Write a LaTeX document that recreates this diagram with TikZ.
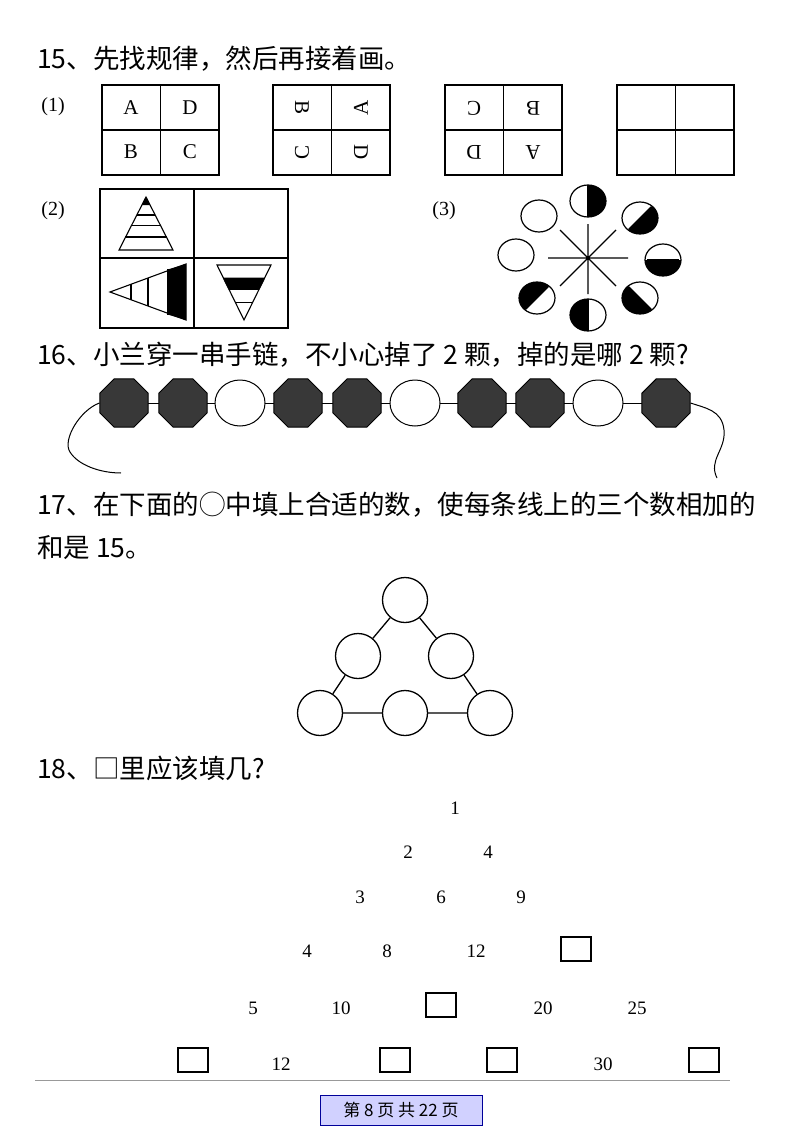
\documentclass[tikz,border=0pt]{standalone}
\usepackage{fontspec}
\setmainfont{Liberation Serif}
\newfontfamily\cjk{Noto Sans CJK SC}
\usetikzlibrary{shapes.geometric}
\begin{document}
\begin{tikzpicture}[x=1pt,y=-1pt,
  title/.style={anchor=base west,inner sep=0,font=\cjk\fontsize{26.5}{30}\selectfont},
  lbl/.style={font=\fontsize{20}{24}\selectfont,inner sep=0},
  let/.style={font=\fontsize{21}{24}\selectfont,inner sep=0},
  num/.style={font=\fontsize{19}{22}\selectfont,inner sep=0},
  gridline/.style={line width=1.6pt},
  qbox/.style={draw,line width=1.2pt,minimum width=30pt,minimum height=24pt,inner sep=0},
  dark/.style={draw,line width=1pt,fill=black!78,regular polygon,regular polygon sides=8,minimum size=52pt,inner sep=0},
  pearl/.style={draw,line width=1pt,fill=white,ellipse,minimum width=50pt,minimum height=46pt,inner sep=0},
  ring/.style={draw,line width=1.3pt,circle,minimum size=45pt,inner sep=0,fill=white}]
\useasboundingbox (0,0) rectangle (800,1132);
\fill[white] (0,0) rectangle (800,1132);

% ---- 15
\node[title] (t15) at (37,68) {15、先找规律，然后再接着画。};
\node[lbl] (l1) at (53,107) {(1)};
\foreach \gx/\ra/\a/\rb/\b/\rc/\c/\rd/\d [count=\i] in {102/0/A/0/D/0/B/0/C,273/-90/B/90/A/90/C/-90/D,445/180/C/180/B/180/D/180/A,617/0/{}/0/{}/0/{}/0/{}}{
  \draw[gridline] (\gx,85) rectangle (\gx+117,175);
  \draw[gridline] (\gx+58.5,85) -- (\gx+58.5,175);
  \draw[gridline] (\gx,130) -- (\gx+117,130);
  \node[let,rotate=\ra] (g\i a) at (\gx+29,108) {\a};
  \node[let,rotate=\rb] (g\i b) at (\gx+88,108) {\b};
  \node[let,rotate=\rc] (g\i c) at (\gx+29,152) {\c};
  \node[let,rotate=\rd] (g\i d) at (\gx+88,152) {\d};
}

% ---- (2)
\node[lbl] (l2) at (53,211) {(2)};
\draw[gridline] (100,189) rectangle (288,328);
\draw[gridline] (194,189) -- (194,328);
\draw[gridline] (100,258) -- (288,258);
% upright triangle
\fill (146,197) -- (141.9,205) -- (150.1,205) -- cycle;
\draw[line width=1.1pt] (146,197) -- (119,250) -- (173,250) -- cycle;
\draw[line width=1.1pt] (136.8,215) -- (155.2,215) (131.4,225.5) -- (160.6,225.5) (125.4,237) -- (166.6,237);
% left-pointing triangle
\fill (168,269.4) -- (186,264) -- (186,320) -- (168,314.6) -- cycle;
\draw[line width=1.1pt] (110,292) -- (186,264) -- (186,320) -- cycle;
\draw[line width=1.1pt] (131,284.3) -- (131,299.7) (148,277.9) -- (148,306.1) (168,269.4) -- (168,314.6);
% inverted triangle
\fill (222.8,277.6) -- (265.2,277.6) -- (259.2,289.8) -- (228.8,289.8) -- cycle;
\draw[line width=1.1pt] (217,265) -- (271,265) -- (244,320) -- cycle;
\draw[line width=1.1pt] (235.3,302.4) -- (252.7,302.4);

% ---- (3)
\node[lbl] (l3) at (444,211) {(3)};
\coordinate (cc) at (588,258);
\draw[line width=1.2pt] (548,258) -- (628,258) (588,224) -- (588,294)
  (560,230) -- (616,286) (560,286) -- (616,230);
\foreach \x/\y/\ang/\blk in {588/201/0/1,640/218/-45/1,663/260/-90/1,640/298/-135/1,588/315/180/1,537/298/135/1,516/255/0/0,539/216/0/0}{
  \begin{scope}[shift={(\x,\y)}]
    \fill[white] (0,0) ellipse (18 and 16);
    \ifnum\blk=1
      \begin{scope}
        \clip (0,0) ellipse (18 and 16);
        \fill[rotate=\ang] (0,-22) rectangle (22,22);
      \end{scope}
      \draw[line width=1.1pt,rotate=\ang] (0,-16) -- (0,16);
    \fi
    \draw[line width=1.2pt] (0,0) ellipse (18 and 16);
  \end{scope}
}

% ---- 16
\node[title] (t16) at (37,364) {16、小兰穿一串手链，不小心掉了 2 颗，掉的是哪 2 颗?};
\draw[line width=1pt] (100,403) -- (690,403);
\node[dark] (b1) at (124,403) {};
\node[dark] (b2) at (183,403) {};
\node[pearl] (b3) at (240,403) {};
\node[dark] (b4) at (298,403) {};
\node[dark] (b5) at (357,403) {};
\node[pearl] (b6) at (415,403) {};
\node[dark] (b7) at (482,403) {};
\node[dark] (b8) at (540,403) {};
\node[pearl] (b9) at (598,403) {};
\node[dark] (b10) at (666,403) {};
\coordinate (e1) at (121,473);
\coordinate (e2) at (717,478);
\draw[line width=1pt] (b1.west) .. controls (80,410) and (62,440) .. (70,452) .. controls (78,465) and (100,473) .. (e1);
\draw[line width=1pt] (b10.east) .. controls (705,408) and (722,410) .. (724,430) .. controls (726,450) and (708,460) .. (e2);

% ---- 17
\node[title] (t17a) at (37,514) {17、在下面的◯中填上合适的数，使每条线上的三个数相加的};
\node[title] (t17b) at (37,557) {和是 15。};
\node[ring] (c1) at (405,600) {};
\node[ring] (c2) at (358,656) {};
\node[ring] (c3) at (451,656) {};
\node[ring] (c4) at (320,713) {};
\node[ring] (c5) at (405,713) {};
\node[ring] (c6) at (490,713) {};
\draw[line width=1.3pt] (c1) -- (c2) (c2) -- (c4) (c1) -- (c3) (c3) -- (c6) (c4) -- (c5) (c5) -- (c6);

% ---- 18
\node[title] (t18) at (37,778) {18、□里应该填几?};
\node[num] (n11) at (455,808) {1};
\node[num] (n21) at (408,852) {2};
\node[num] (n22) at (488,852) {4};
\node[num] (n31) at (360,897) {3};
\node[num] (n32) at (441,897) {6};
\node[num] (n33) at (521,897) {9};
\node[num] (n41) at (307,951) {4};
\node[num] (n42) at (387,951) {8};
\node[num] (n43) at (476,951) {12};
\node[qbox] (q41) at (576,949) {};
\node[num] (n51) at (253,1008) {5};
\node[num] (n52) at (341,1008) {10};
\node[qbox] (q51) at (441,1005) {};
\node[num] (n54) at (543,1008) {20};
\node[num] (n55) at (637,1008) {25};
\node[qbox] (q61) at (193,1060) {};
\node[num] (n62) at (281,1064) {12};
\node[qbox] (q63) at (395,1060) {};
\node[qbox] (q64) at (502,1060) {};
\node[num] (n65) at (603,1064) {30};
\node[qbox] (q66) at (704,1060) {};

% ---- footer
\draw[black!40,line width=0.8pt] (35,1080) -- (730,1080);
\node[draw=blue!60!black,fill=blue!18,line width=0.8pt,minimum width=162pt,minimum height=30pt,inner sep=0,
  font=\cjk\fontsize{17}{20}\selectfont] (foot) at (401,1110) {第 8 页 共 22 页};
\end{tikzpicture}
\end{document}
